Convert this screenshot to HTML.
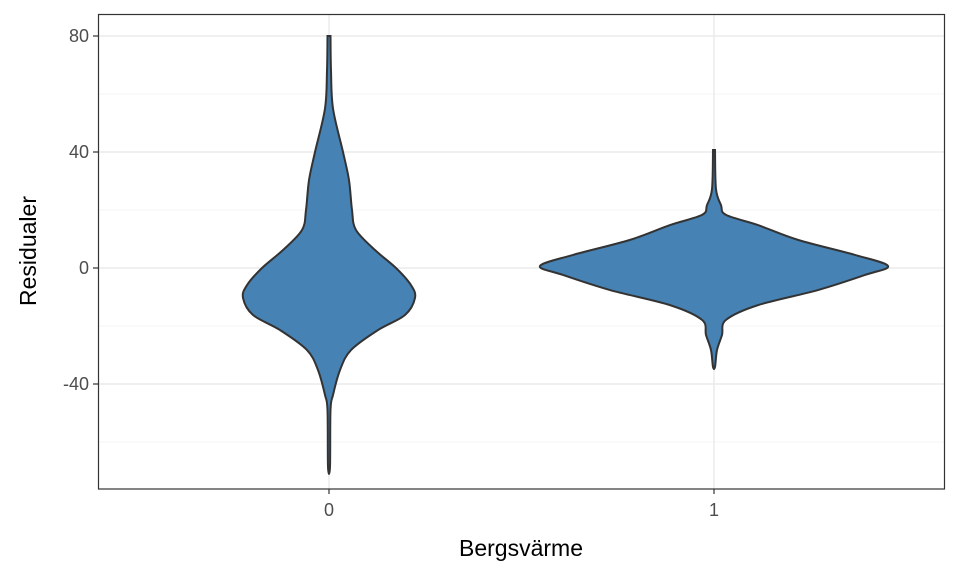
<!DOCTYPE html>
<html><head><meta charset="utf-8"><style>
body{margin:0;background:#fff}
text{font-family:"Liberation Sans",sans-serif}
</style></head><body>
<svg id="chart" width="960" height="576">
<rect width="960" height="576" fill="#fff"/>
<g id="grid"></g><g id="violins"></g>
<rect x="98.5" y="14.5" width="846" height="474.5" fill="none" stroke="#333" stroke-width="1.2"/>
<g id="axes"></g>
<text x="521" y="556" text-anchor="middle" font-size="23" fill="#000">Bergsvärme</text>
<text transform="translate(36,251) rotate(-90)" text-anchor="middle" font-size="23" fill="#000">Residualer</text>
</svg>
<script>
const categories=["0","1"];
const yTicks=[80,40,0,-40];
const yMinor=[60,20,-20,-60];
// violin profiles: values and relative half-widths
const v0Values=[80,68,55,40,30.3,20,13.1,6.2,0,-5.9,-10.3,-16.2,-21.4,-28.3,-35.2,-43.8,-49,-68.6];
const v0Widths=[1.5,2,4,14,20,23,27,46,67,82,86,76,49,22,11,4,1.5,1];
const v1Values=[40.7,27.2,21.7,18.3,14.8,9.7,4.5,0.7,-2.4,-7.6,-12.8,-17.9,-23.1,-28.3,-34.1];
const v1Widths=[1,2,7,12,44,84,141,174,151,104,44,12,8,3,1];
const ns="http://www.w3.org/2000/svg";
const yS=v=>268-v*2.9;
const xS=i=>329+i*385;
const grid=document.getElementById('grid'),axes=document.getElementById('axes'),vg=document.getElementById('violins');
function line(p,x1,y1,x2,y2,c,w){const l=document.createElementNS(ns,'line');l.setAttribute('x1',x1);l.setAttribute('y1',y1);l.setAttribute('x2',x2);l.setAttribute('y2',y2);l.setAttribute('stroke',c);l.setAttribute('stroke-width',w);p.appendChild(l);return l;}
yMinor.forEach(v=>{const l=line(grid,98,yS(v),945,yS(v),'#f0f0f0',0.8);

});
yTicks.forEach(v=>{const l=line(grid,98,yS(v),945,yS(v),'#ebebeb',1.5);


const t=line(axes,93,yS(v),98,yS(v),'#333',1.2);


const tx=document.createElementNS(ns,'text');tx.setAttribute('x',89);tx.setAttribute('y',yS(v)+6);tx.setAttribute('text-anchor','end');tx.setAttribute('font-size','18');tx.setAttribute('fill','#4d4d4d');tx.textContent=v;


axes.appendChild(tx);});
categories.forEach((c,i)=>{const l=line(grid,xS(i),14,xS(i),489,'#ebebeb',1.5);


const t=line(axes,xS(i),489,xS(i),494,'#333',1.2);


const tx=document.createElementNS(ns,'text');tx.setAttribute('x',xS(i));tx.setAttribute('y',516);tx.setAttribute('text-anchor','middle');tx.setAttribute('font-size','18');tx.setAttribute('fill','#4d4d4d');tx.textContent=c;


axes.appendChild(tx);});
function violin(i,vals,ws,name){
 const cx=xS(i);let pts=[];
 vals.forEach((v,k)=>pts.push([cx+ws[k],yS(v)]));
 for(let k=vals.length-1;k>=0;k--)pts.push([cx-ws[k],yS(vals[k])]);
 let d='M'+pts[0].join(',');
 for(let k=0;k<pts.length-1;k++){const p0=pts[Math.max(k-1,0)],p1=pts[k],p2=pts[k+1],p3=pts[Math.min(k+2,pts.length-1)];
  d+=`C${p1[0]+(p2[0]-p0[0])/6},${p1[1]+(p2[1]-p0[1])/6} ${p2[0]-(p3[0]-p1[0])/6},${p2[1]-(p3[1]-p1[1])/6} ${p2[0]},${p2[1]}`;}
 d+='Z';
 const p=document.createElementNS(ns,'path');p.setAttribute('d',d);p.setAttribute('fill','#4682b4');p.setAttribute('stroke','#333');p.setAttribute('stroke-width','2');
 
 
 vg.appendChild(p);}
violin(0,v0Values,v0Widths,'violin-0');
violin(1,v1Values,v1Widths,'violin-1');
</script>
</body></html>
